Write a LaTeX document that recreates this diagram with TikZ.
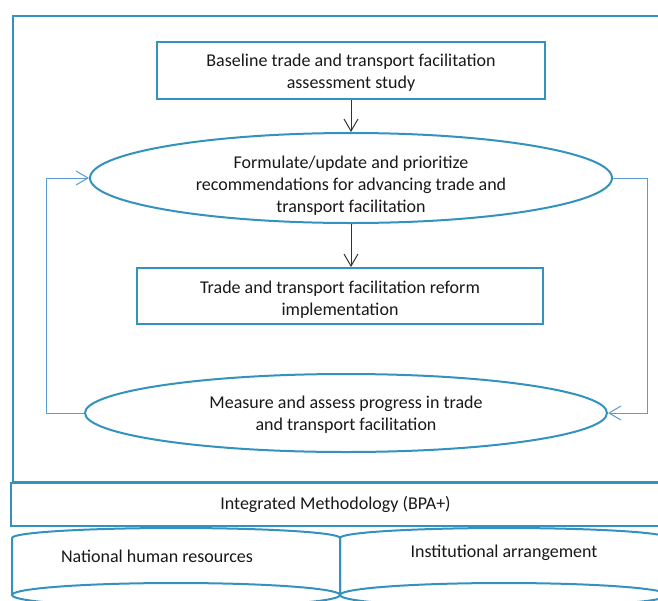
\documentclass[tikz,border=0pt]{standalone}
\usepackage{fontspec}
\setmainfont{Carlito}
\usetikzlibrary{shapes.geometric,arrows.meta}
\definecolor{frame}{RGB}{52,146,190}
\definecolor{loopc}{RGB}{91,155,213}
\begin{document}
\begin{tikzpicture}[x=1pt,y=-1pt,
  every node/.style={font=\fontsize{18}{22}\selectfont, text=black!90, align=center, inner sep=0pt},
  box/.style={draw=frame, line width=2pt, rectangle},
  oval/.style={draw=frame, line width=2pt, ellipse},
  cyl/.style={draw=frame, line width=2pt},
  mainarrow/.style={draw=black!80, line width=1pt, -{Straight Barb[length=12pt,width=14pt]}},
  fbarrow/.style={draw=loopc, line width=1pt, -{Straight Barb[length=12pt,width=14pt]}}]
\clip (0,0) rectangle (658,600);
\fill[white] (0,0) rectangle (658,600);
% outer frame
\draw[cyl] (13,16) rectangle (664,482);
% main shapes
\node[box, minimum width=388pt, minimum height=57pt] (b1) at (351,70.5) {};
\node[oval, minimum width=522pt, minimum height=90pt] (e1) at (351,178) {};
\node[box, minimum width=406pt, minimum height=56pt] (b2) at (340,296) {};
\node[oval, minimum width=522pt, minimum height=78pt] (e2) at (346,413) {};
% texts
\node (b1t) at (351,72.5) {Baseline trade and transport facilitation\\assessment study};
\node (e1t) at (351,186) {Formulate/update and prioritize\\recommendations for advancing trade and\\transport facilitation};
\node (b2t) at (340,299.5) {Trade and transport facilitation reform\\implementation};
\node (e2t) at (346,415) {Measure and assess progress in trade\\and transport facilitation};
% connectors
\draw[mainarrow] (b1.south) -- (e1.north);
\draw[mainarrow] (e1.south) -- (e1.south |- b2.north);
\draw[fbarrow] (e2.west) -- ++(-38,0) |- (e1.west);
\draw[fbarrow] (e1.east) -- ++(34,0) |- (e2.east);
% integrated methodology
\node[box, minimum width=649pt, minimum height=43pt] (bpa) at (335.5,504.5)
  {Integrated Methodology (BPA+)};
% cylinders
\draw[cyl] (12,595) -- (12,538) arc[start angle=180,end angle=0,x radius=164pt,y radius=10pt] -- (340,595);
\draw[cyl] (176,595) ellipse[x radius=164pt, y radius=12pt];
\draw[cyl] (340,595) -- (340,538) arc[start angle=180,end angle=0,x radius=164pt,y radius=10pt] -- (668,595);
\draw[cyl] (504,595) ellipse[x radius=164pt, y radius=12pt];
\node (c1) at (157,556) {National human resources};
\node (c2) at (504,553) {Institutional arrangement};
\end{tikzpicture}
\end{document}
